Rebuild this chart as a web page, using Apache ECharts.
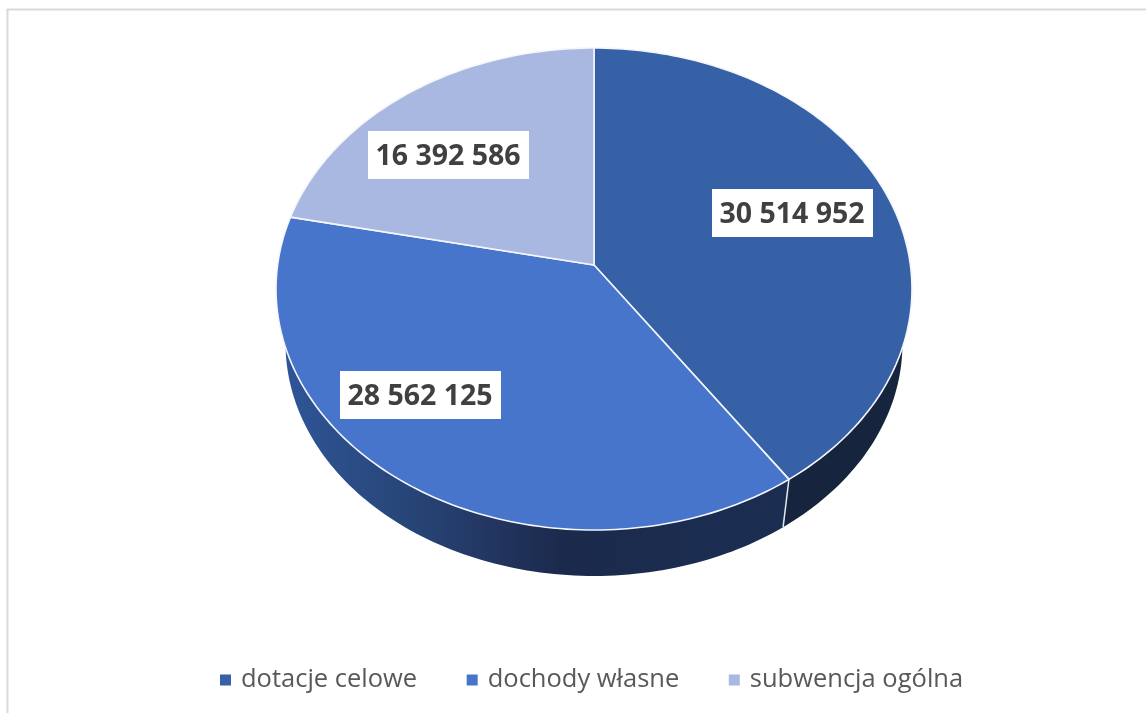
<!DOCTYPE html>
<html><head><meta charset="utf-8">
<style>html,body{margin:0;padding:0;background:#fff}#c{width:1146px;height:713px}</style>
<script src="https://cdn.jsdelivr.net/npm/echarts@6/dist/echarts.min.js"></script>
</head><body><div id="c"></div>
<script>
const categories = ['dotacje celowe', 'dochody własne', 'subwencja ogólna'];
const values = [30514952, 28562125, 16392586];
const tickLabels = ['30 514 952', '28 562 125', '16 392 586'];
const topColors = ['#3761A6', '#4775CB', '#A9B8E0'];

// Layout of the tilted pie (perspective projection of a circle)
const P = {cx: 594, cy: 265, A: 316.4, B: 238.6, k: 0.0996, sx: 0.97, sy: 0.964, baseCy: 320.5};
const labelBoxes = [[792.5, 213], [420.5, 395], [448.5, 155]];
const BOX_W = 161, BOX_H = 48;

const total = values.reduce((a, b) => a + b, 0);
function startAngle(i) {
  let s = 0;
  for (let j = 0; j < i; j++) s += values[j];
  return s / total * Math.PI * 2;
}
function rim(theta, base) {
  const u = Math.sin(theta), v = -Math.cos(theta), w = 1 - P.k * v;
  const x = P.A * u / w, y = P.B * v / w;
  return base ? [P.cx + x * P.sx, P.baseCy + y * P.sy] : [P.cx + x, P.cy + y];
}
function arc(a, b, base) {
  const pts = [], n = Math.max(2, Math.ceil(Math.abs(b - a) / 0.02));
  for (let i = 0; i <= n; i++) pts.push(rim(a + (b - a) * i / n, base));
  return pts;
}
const sideFill = [
  '#16243E',
  {type: 'linear', x: 280, y: 0, x2: 800, y2: 0, global: true, colorStops: [
    {offset: 0, color: '#2F5699'}, {offset: 0.288, color: '#264272'},
    {offset: 0.423, color: '#22345E'}, {offset: 0.538, color: '#1B2A4C'}, {offset: 1, color: '#1A2E52'}]},
  '#1A2E52'
];
const NEAR_A = 85 * Math.PI / 180, NEAR_B = 285 * Math.PI / 180;

function renderSlice(i) {
  return function (params, api) {
    const v = api.value(0);
    const a = startAngle(i), b = a + v / total * Math.PI * 2;
    const children = [];
    const sa = Math.max(a, NEAR_A), sb = Math.min(b, NEAR_B);
    if (sb > sa) {
      children.push({type: 'polygon', z2: 1, silent: true,
        shape: {points: arc(sa, sb, false).concat(arc(sb, sa, true))},
        style: {fill: sideFill[i]}});
    }
    if (a >= NEAR_A && a <= NEAR_B) {
      const p = rim(a, false), q = rim(a, true);
      children.push({type: 'line', z2: 2, silent: true,
        shape: {x1: p[0], y1: p[1], x2: q[0], y2: q[1]},
        style: {stroke: '#E4E7EE', lineWidth: 1.5}});
    }
    children.push({type: 'polygon', z2: 10,
      shape: {points: [[P.cx, P.cy]].concat(arc(a, b, false))},
      style: {fill: topColors[i], stroke: '#F4F6FB', lineWidth: 1.6, lineJoin: 'round'}});
    const c = labelBoxes[i];
    children.push({type: 'rect', z2: 20, silent: true,
      shape: {x: c[0] - BOX_W / 2, y: c[1] - BOX_H / 2, width: BOX_W, height: BOX_H},
      style: {fill: '#fff'}});
    children.push({type: 'text', z2: 21, silent: true, x: c[0] - 0.5, y: c[1] + 2,
      style: {text: tickLabels[i], x: 0, y: 0, align: 'center', verticalAlign: 'middle',
        fill: '#404040', font: 'bold 28.5px "Open Sans"'}});
    return {type: 'group', children};
  };
}

const chart = echarts.init(document.getElementById('c'), null, {renderer: 'canvas'});
chart.setOption({
  animation: false,
  backgroundColor: '#fff',
  legend: {
    left: 220, top: 667, itemWidth: 11, itemHeight: 11, itemGap: 49.5,
    icon: 'rect', selectedMode: false, padding: 0,
    data: categories,
    textStyle: {color: '#595959', fontSize: 25.5, fontFamily: '"Open Sans"', padding: [0, 0, 0, 5]}
  },
  graphic: [
    {type: 'line', shape: {x1: 6.5, y1: 9.5, x2: 1146, y2: 9.5}, style: {stroke: '#D9D9D9', lineWidth: 2}},
    {type: 'line', shape: {x1: 7.5, y1: 9, x2: 7.5, y2: 713}, style: {stroke: '#D9D9D9', lineWidth: 2}}
  ],
  series: categories.map((name, i) => ({
    type: 'custom', name, coordinateSystem: 'none',
    itemStyle: {color: topColors[i]},
    data: [[values[i]]],
    renderItem: renderSlice(i)
  }))
});
</script></body></html>
